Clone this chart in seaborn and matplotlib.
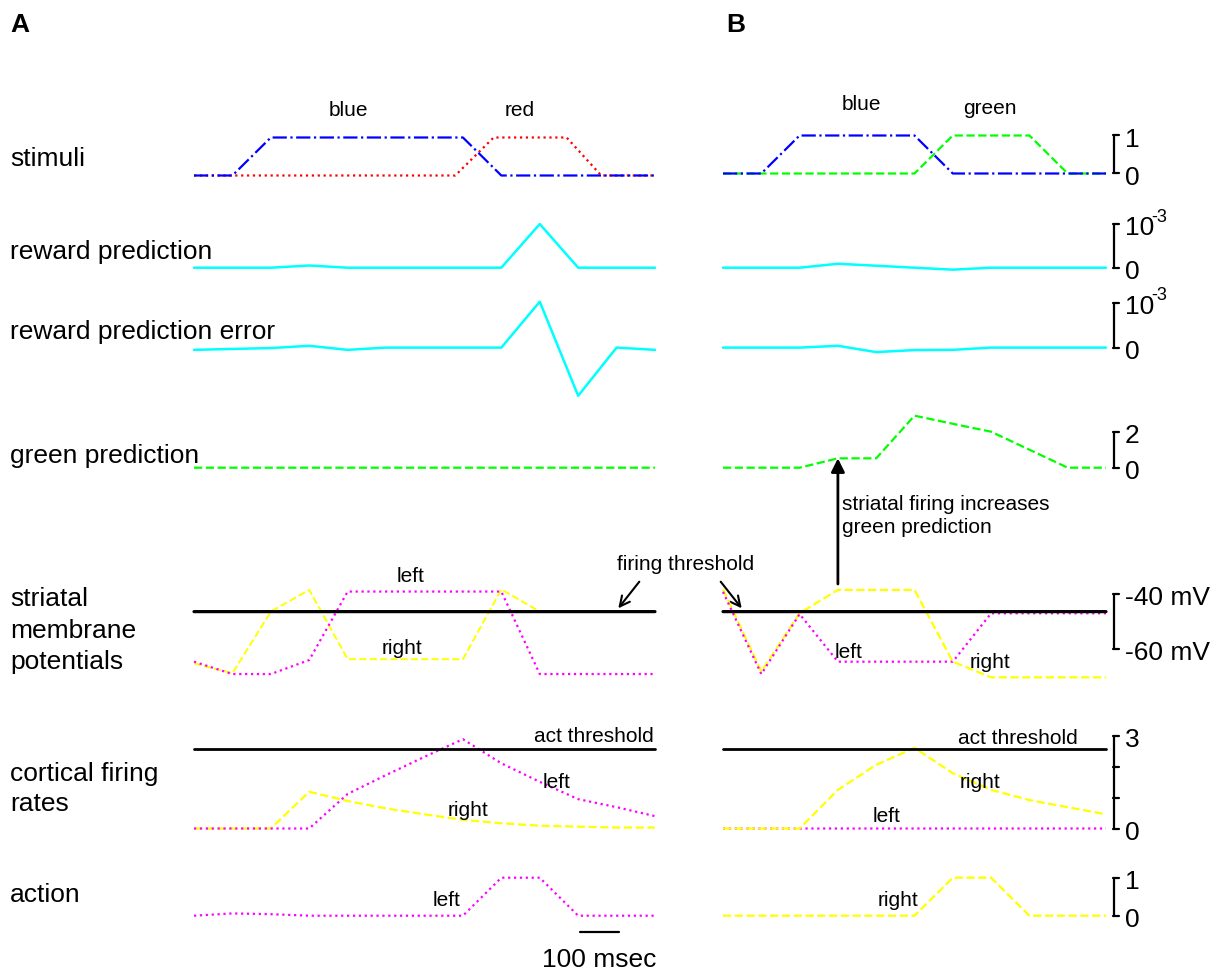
import numpy as np
import pandas as pd
import matplotlib
matplotlib.use("Agg")
import matplotlib.pyplot as plt
import matplotlib.transforms as mtransforms
import seaborn as sns

sns.set_style("white")
plt.rcParams["font.family"] = ["Liberation Sans", "DejaVu Sans"]
plt.rcParams["mathtext.default"] = "regular"
plt.rcParams["text.color"] = "black"

# ---------------- data ----------------
t_A = [0, 100, 200, 300, 400, 500, 600, 700, 800, 900, 1000, 1100, 1200]   # ms
t_B = [0, 100, 200, 300, 400, 500, 600, 700, 800, 900, 1000]

stim_blue_A = [0, 0, 1, 1, 1, 1, 1, 1, 0, 0, 0, 0, 0]
stim_red_t_A = [0, 680, 780, 970, 1060, 1200]
stim_red_A = [0, 0, 1, 1, 0, 0]
stim_blue_B = [0, 0, 1, 1, 1, 1, 0, 0, 0, 0, 0]
stim_green_B = [0, 0, 0, 0, 0, 0, 1, 1, 1, 0, 0]

rp_A = [0, 0, 0, 0.05e-3, 0, 0, 0, 0, 0, 1.0e-3, 0, 0, 0]
rp_B = [0, 0, 0, 0.09e-3, 0.045e-3, 0.0, -0.045e-3, 0, 0, 0, 0]
rpe_A = [-0.05e-3, -0.03e-3, -0.01e-3, 0.04e-3, -0.05e-3, 0, 0, 0, 0,
         1.02e-3, -1.07e-3, 0, -0.05e-3]
rpe_B = [0, 0, 0, 0.04e-3, -0.1e-3, -0.055e-3, -0.05e-3, 0, 0, 0, 0]

green_A = [0, 0, 0, 0, 0, 0, 0, 0, 0, 0, 0, 0, 0]
green_B = [0, 0, 0, 0.52, 0.52, 2.89, 2.44, 2.0, 1.0, 0, 0]

str_right_A = [-65.1, -68.7, -46.3, -38.4, -63.6, -63.6, -63.6, -63.6, -38.2, -46.3, -46.3, -46.3, -46.3]
str_left_A = [-64.5, -69.0, -69.0, -63.9, -39.0, -39.0, -39.0, -39.0, -39.0, -69.0, -69.0, -69.0, -69.0]
str_right_B = [-38.2, -68.1, -46.9, -38.4, -38.4, -38.4, -64.5, -70.2, -70.2, -70.2, -70.2]
str_left_B = [-39.1, -69.0, -47.2, -64.5, -64.5, -64.5, -64.5, -46.9, -46.9, -46.9, -46.9]
firing_threshold = -46.3

ctx_right_A = [0, 0, 0, 1.19, 0.89, 0.65, 0.46, 0.28, 0.17, 0.09, 0.06, 0.03, 0.03]
ctx_left_A = [0, 0, 0, 0, 1.12, 1.73, 2.32, 2.89, 2.11, 1.51, 0.95, 0.69, 0.40]
ctx_right_B = [0, 0, 0, 1.25, 2.06, 2.61, 1.79, 1.25, 0.92, 0.69, 0.46]
ctx_left_B = [0, 0, 0, 0, 0, 0, 0, 0, 0, 0, 0]
act_threshold = 2.57

action_left_A = [0, 0.06, 0.04, 0, 0, 0, 0, 0, 1, 1, 0, 0, 0]
action_right_B = [0, 0, 0, 0, 0, 0, 1, 1, 0, 0, 0]

row_labels = [
    ["stimuli"],
    ["reward prediction"],
    ["reward prediction error"],
    ["green prediction"],
    ["striatal", "membrane", "potentials"],
    ["cortical firing", "rates"],
    ["action"],
]

scalebar_ms = 100

# ---------------- layout ----------------
W, H = 1218, 973
fig = plt.figure(figsize=(W / 100, H / 100), dpi=100)
pix = mtransforms.Affine2D().scale(1 / W, -1 / H).translate(0, 1) + fig.transFigure

AX_A = (194, 461, 1200)
AX_B = (723, 383, 1000)

# row: (zero pixel A, zero pixel B, px per unit, ylim)
rows = {
    "stim": (175.5, 173.5, 38.0, (-0.2, 1.2)),
    "rp": (267.7, 267.7, 43700.0, (-0.3e-3, 1.2e-3)),
    "rpe": (347.6, 347.6, 45000.0, (-1.2e-3, 1.2e-3)),
    "green": (467.7, 467.7, 18.0, (-0.5, 3.2)),
    "str": (484.3, 484.3, 2.75, (-73, -35)),
    "ctx": (828.5, 828.5, 30.9, (-0.3, 3.2)),
    "act": (915.7, 915.7, 38.0, (-0.3, 1.2)),
}


def add_ax(panel, Z, s, ylim):
    x0, wpx, xmax = panel
    top = Z - s * ylim[1]
    bot = Z - s * ylim[0]
    ax = fig.add_axes([x0 / W, 1 - bot / H, wpx / W, (bot - top) / H])
    ax.set_xlim(0, xmax)
    ax.set_ylim(*ylim)
    ax.set_axis_off()
    ax.patch.set_alpha(0)
    return ax


axes = {}
for name, (ZA, ZB, s, yl) in rows.items():
    axes[(name, "A")] = add_ax(AX_A, ZA, s, yl)
    axes[(name, "B")] = add_ax(AX_B, ZB, s, yl)


def trace(ax, t, v, color, ls, lw=1.6, z=2):
    n0 = len(ax.lines)
    sns.lineplot(x=t, y=v, ax=ax, color=color, linestyle=ls, linewidth=lw,
                 errorbar=None, sort=False, legend=False)
    for ln in ax.lines[n0:]:
        ln.set_clip_on(False)
        ln.set_zorder(z)
        ln.set_snap(False)


BLUE, RED, GREEN, CYAN, MAG, YEL = "#0000ff", "#ff0000", "#00ff00", "#00ffff", "#ff00ff", "#ffff00"

# stimuli
trace(axes[("stim", "A")], stim_red_t_A, stim_red_A, RED, ":")
trace(axes[("stim", "A")], t_A, stim_blue_A, BLUE, "-.")
trace(axes[("stim", "B")], t_B, stim_green_B, GREEN, "--")
trace(axes[("stim", "B")], t_B, stim_blue_B, BLUE, "-.")
# reward prediction / error
trace(axes[("rp", "A")], t_A, rp_A, CYAN, "-", 1.8)
trace(axes[("rp", "B")], t_B, rp_B, CYAN, "-", 1.8)
trace(axes[("rpe", "A")], t_A, rpe_A, CYAN, "-", 1.8)
trace(axes[("rpe", "B")], t_B, rpe_B, CYAN, "-", 1.8)
# green prediction
trace(axes[("green", "A")], t_A, green_A, GREEN, "--")
trace(axes[("green", "B")], t_B, green_B, GREEN, "--")
# striatal
trace(axes[("str", "A")], t_A, str_right_A, YEL, "--", 1.4)
trace(axes[("str", "A")], t_A, str_left_A, MAG, ":")
trace(axes[("str", "B")], t_B, str_right_B, YEL, "--")
trace(axes[("str", "B")], t_B, str_left_B, MAG, ":")
for p in "AB":
    hl = axes[("str", p)].axhline(firing_threshold, color="black", lw=2.3, zorder=3, clip_on=False)
    hl.set_snap(False)
# cortical
trace(axes[("ctx", "A")], t_A, ctx_right_A, YEL, "--")
trace(axes[("ctx", "A")], t_A, ctx_left_A, MAG, ":")
trace(axes[("ctx", "B")], t_B, ctx_left_B, MAG, ":")
trace(axes[("ctx", "B")], t_B, ctx_right_B, YEL, "--")
for p in "AB":
    axes[("ctx", p)].axhline(act_threshold, color="black", lw=2.0, zorder=3, clip_on=False)
# action
trace(axes[("act", "A")], t_A, action_left_A, MAG, ":")
trace(axes[("act", "B")], t_B, action_right_B, YEL, "--")

# ---------------- text ----------------
BIG = 19
SMALL = 15
fig.text(10, 32, "A", transform=pix, fontsize=BIG, fontweight="bold", va="baseline")
fig.text(726, 32, "B", transform=pix, fontsize=BIG, fontweight="bold", va="baseline")

label_baselines = [[165.5], [259.5], [339.5], [463.5], [606.5, 637.5, 669.0], [780.5, 811.0], [902.0]]
for lines, ys in zip(row_labels, label_baselines):
    for ln, y in zip(lines, ys):
        fig.text(10, y, ln, transform=pix, fontsize=BIG, va="baseline", ha="left")

inner = [
    ("blue", 348, 111, "center"), ("red", 520, 110, "center"),
    ("blue", 861, 104, "center"), ("green", 990, 108, "center"),
    ("left", 411, 577, "center"), ("right", 402, 649, "center"),
    ("left", 849, 653, "center"), ("right", 990, 663, "center"),
    ("firing threshold", 686, 565, "center"),
    ("act threshold", 654, 736, "right"),
    ("left", 557, 783, "center"), ("right", 468, 810, "center"),
    ("act threshold", 1018, 739, "center"),
    ("right", 980, 783, "center"), ("left", 887, 817, "center"),
    ("left", 447, 900, "center"), ("right", 898, 901, "center"),
]
for s_, x, y, ha in inner:
    fig.text(x, y, s_, transform=pix, fontsize=SMALL, ha=ha, va="center")

fig.text(842, 516, "striatal firing increases\ngreen prediction", transform=pix,
         fontsize=SMALL, ha="left", va="center", linespacing=1.25)

# arrow: striatal firing -> green prediction
axG = axes[("green", "B")]
axS = axes[("str", "B")]
axG.annotate("", xy=(300, green_B[3]), xycoords=axG.transData,
             xytext=(300, -36.25), textcoords=axS.transData,
             arrowprops=dict(arrowstyle="-|>", color="black", lw=2.0,
                             mutation_scale=20, shrinkA=0, shrinkB=0),
             annotation_clip=False)
# firing threshold arrows
for head, tail in [((618.3, 608.3), (639.3, 581.7)), ((741.7, 608.3), (720.7, 581.7))]:
    fig.axes[0].annotate("", xy=head, xycoords=pix, xytext=tail, textcoords=pix,
                         arrowprops=dict(arrowstyle="->", color="black", lw=1.5,
                                         mutation_scale=18, shrinkA=0, shrinkB=0),
                         annotation_clip=False)

# ---------------- scale bars (panel B) ----------------
scales = [
    ("stim", [0, 1], [(1, "1", None), (0, "0", None)]),
    ("rp", [0, 1e-3], [(1e-3, "10", "-3"), (0, "0", None)]),
    ("rpe", [0, 1e-3], [(1e-3, "10", "-3"), (0, "0", None)]),
    ("green", [0, 2], [(2, "2", None), (0, "0", None)]),
    ("str", [-60, -40], [(-40, "-40 mV", None), (-60, "-60 mV", None)]),
    ("ctx", [0, 1, 2, 3], [(3, "3", None), (0, "0", None)]),
    ("act", [0, 1], [(1, "1", None), (0, "0", None)]),
]
for name, ticks, labs in scales:
    ax = axes[(name, "B")]
    tr = mtransforms.blended_transform_factory(pix, ax.transData)
    ax.plot([1114, 1114], [min(ticks), max(ticks)], transform=tr, color="black",
            lw=1.6, clip_on=False, solid_capstyle="butt")
    for v in ticks:
        ax.plot([1113.4, 1119], [v, v], transform=tr, color="black", lw=1.6, clip_on=False)
    for v, lab, sup in labs:
        ax.annotate(lab, xy=(1125, v), xycoords=tr, xytext=(0, -3),
                    textcoords="offset points", fontsize=BIG, ha="left", va="center",
                    annotation_clip=False)
        if sup is not None:
            ax.annotate(sup, xy=(1125, v), xycoords=tr, xytext=(19, 5),
                        textcoords="offset points", fontsize=13, ha="left", va="center",
                        annotation_clip=False)

# time scale bar (panel A)
axT = axes[("act", "A")]
trT = mtransforms.blended_transform_factory(axT.transData, pix)
axT.plot([1005, 1005 + scalebar_ms], [931.7, 931.7], transform=trT, color="black",
         lw=1.6, clip_on=False)
axT.text(1005 + scalebar_ms / 2, 960, f"{scalebar_ms} msec", transform=trT,
         fontsize=BIG, ha="center", va="center")

fig.savefig("out.png", dpi=100)
